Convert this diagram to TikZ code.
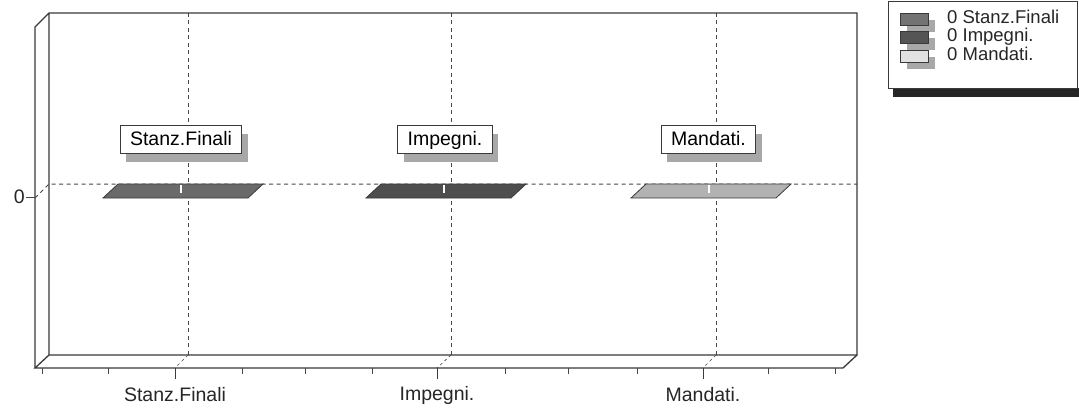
\documentclass[tikz,border=0pt]{standalone}
\usepackage{fontspec}
\setmainfont{Liberation Sans}
\usetikzlibrary{shadows}
\definecolor{frameC}{HTML}{3A3A3A}
\definecolor{gridC}{HTML}{484848}
\definecolor{barA}{HTML}{6A6A6A}
\definecolor{barB}{HTML}{4E4E4E}
\definecolor{barC}{HTML}{B2B2B2}
\definecolor{swA}{HTML}{737373}
\definecolor{swB}{HTML}{555555}
\definecolor{swC}{HTML}{E2E2E2}
\definecolor{shadC}{HTML}{A8A8A8}
\tikzset{
  frame/.style={draw=frameC, line width=1.3pt},
  gridln/.style={draw=gridC, line width=1pt, dash pattern=on 4pt off 3.5pt},
  barbox/.style={draw=frameC, line width=0.8pt},
  lbl/.style={draw=frameC, fill=white, line width=1pt, font=\fontsize{19.5}{20}\selectfont,
     inner xsep=10pt, minimum height=28pt, text height=14pt, text depth=3.5pt,
     drop shadow={shadow xshift=6pt, shadow yshift=-8pt, fill=shadC, opacity=1}},
  axlbl/.style={font=\fontsize{19.5}{20}\selectfont, text=black!85},
  legtxt/.style={font=\fontsize{18.5}{19}\selectfont, anchor=west, inner sep=0pt,
     text height=12.5pt, text depth=3.5pt, text=black!85},
  swatch/.style={draw=frameC, line width=0.8pt},
}
\begin{document}
\begin{tikzpicture}[x=1pt,y=-1pt]
\useasboundingbox (0,0) rectangle (1079,409);
\fill[white] (0,0) rectangle (1079,409);
% corner coordinates of the box
\coordinate (BTL) at (49,13);
\coordinate (BTR) at (857,13);
\coordinate (BBL) at (49,355);
\coordinate (BBR) at (857,355);
\coordinate (FTL) at (35,27);
\coordinate (FBL) at (35,368);
\coordinate (FBR) at (843,368);
% gridlines
\coordinate (HL) at (49,184);
\coordinate (HR) at (857,184);
\coordinate (HF) at (35,198);
\draw[gridln] (HF) -- (HL) -- (HR);
\foreach \g/\f [count=\i] in {188/175,451/437,716/703}{
  \coordinate (vt\i) at (\g,13);
  \coordinate (vb\i) at (\g,355);
  \coordinate (vf\i) at (\f,368);
  \draw[gridln] (vt\i) -- (vb\i);
  \draw[draw=gridC, line width=0.6pt, dash pattern=on 3pt off 3pt] (vb\i) -- (vf\i);
}
% frame
\draw[frame] (FBL) -- (FTL) -- (BTL) -- (BTR) -- (BBR) -- (BBL) -- (BTL);
\draw[frame] (BBL) -- (FBL) -- (FBR) -- (BBR);
% ticks
\foreach \t [count=\k from 0] in {42,108,175,242,305,372,437,505,568,637,703,768,835}{
  \coordinate (tk\k) at (\t,368);
  \coordinate (tke\k) at (\t,374);
  \draw[draw=gridC, line width=0.8pt] (tk\k) -- (tke\k);
}
\foreach \t in {175,437,703}{
  \coordinate (mt\t) at (\t,368);
  \coordinate (mte\t) at (\t,379);
  \draw[draw=frameC, line width=1pt] (mt\t) -- (mte\t);
}
\coordinate (ytk) at (35,197);
\coordinate (ytke) at (26,197);
\draw[draw=gridC, line width=0.8pt] (ytk) -- (ytke);
\node[axlbl, anchor=east, inner sep=1pt] (zero) at (ytke) {0};
% bars
\foreach \g/\c [count=\i] in {188/barA,451/barB,716/barC}{
  \draw[barbox, fill=\c] (\g-85,198) -- (\g+60,198) -- (\g+75,184) -- (\g-70,184) -- cycle;
  \draw[white, line width=1.2pt] (\g-7,184.5) -- (\g-7,193);
}
% bar labels
\node[lbl] (l1) at (181,140) {Stanz.Finali};
\node[lbl] (l2) at (445,140) {Impegni.};
\node[lbl] (l3) at (708.5,140) {Mandati.};
% axis labels
\node[axlbl] (a1) at (175,395) {Stanz.Finali};
\node[axlbl] (a2) at (437,395) {Impegni.};
\node[axlbl] (a3) at (703,395) {Mandati.};
% legend
\fill[black!85] (893,88) rectangle (1079,97);
\draw[draw=frameC, fill=white, line width=1pt] (888,2) rectangle (1077,89);
\foreach \c/\y [count=\i] in {swA/13,swB/31.5,swC/50}{
  \fill[shadC] (907,\y+7) rectangle (935,\y+19);
  \draw[swatch, fill=\c] (900,\y) rectangle (928,\y+12);
}
\node[legtxt] (t1) at (947,19) {0 Stanz.Finali};
\node[legtxt] (t2) at (947,37.5) {0 Impegni.};
\node[legtxt] (t3) at (947,56) {0 Mandati.};
\end{tikzpicture}
\end{document}
